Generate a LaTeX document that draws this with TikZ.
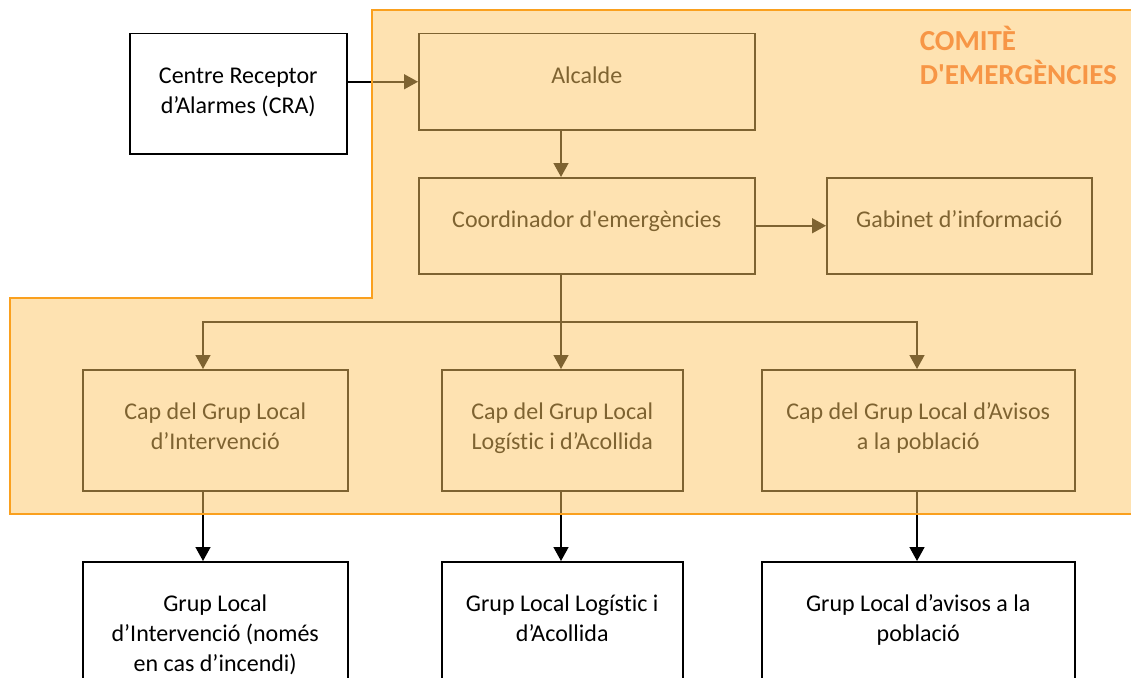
\documentclass[tikz,border=0pt]{standalone}
\usepackage{fontspec}
\setmainfont{Carlito}[Ligatures=NoCommon]
\usetikzlibrary{arrows.meta}

\definecolor{comite}{RGB}{253,198,99}
\definecolor{vora}{RGB}{250,160,30}
\definecolor{titol}{RGB}{247,150,70}

\tikzset{caixa/.style={draw, inner sep=0pt, anchor=north west}}
\newcommand{\caixatext}[3]{\parbox[c][#2][t]{#1}{\centering\vspace*{29pt}\strut #3}}

\begin{document}
\begin{tikzpicture}
		[
		x=1pt, y=-1pt, line width=1.5pt, font=\fontsize{24}{30}\selectfont,
		>={Triangle[length=14pt,width=15pt]}
		%Voreinstellung: Pixel des Originals, y nach unten
		]
		\useasboundingbox (0,0) rectangle (1131,677);
		\clip (0,0) rectangle (1131,677);
		
		%Caixes de dalt
		\node[caixa] (cra) at (129,33) {\caixatext{217pt}{120pt}{Centre Receptor\\d’Alarmes (CRA)}};
		\node[caixa] (alcalde) at (418,33) {\caixatext{336pt}{96pt}{Alcalde}};
		\node[caixa] (coord) at (418,177) {\caixatext{336pt}{96pt}{Coordinador d\textquotesingle emergències}};
		\node[caixa] (gabinet) at (826,177) {\caixatext{265pt}{96pt}{Gabinet d’informació}};
		
		%Caps dels grups
		\node[caixa] (capint) at (82,369) {\caixatext{265pt}{121pt}{Cap del Grup Local\\d’Intervenció}};
		\node[caixa] (caplog) at (441,369) {\caixatext{241pt}{121pt}{Cap del Grup Local\\Logístic i d’Acollida}};
		\node[caixa] (capavis) at (761,369) {\caixatext{313pt}{121pt}{Cap del Grup Local d’Avisos\\a la població}};
		
		%Grups locals
		\node[caixa] (grupint) at (82,561) {\caixatext{265pt}{140pt}{Grup Local\\d’Intervenció (només\\en cas d’incendi)}};
		\node[caixa] (gruplog) at (441,561) {\caixatext{241pt}{140pt}{Grup Local Logístic i\\d’Acollida}};
		\node[caixa] (grupavis) at (761,561) {\caixatext{313pt}{140pt}{Grup Local d’avisos a la\\població}};
		
		%Fletxes
		\coordinate (rama) at (561,322);
		\coordinate (xint) at (203,0);
		\coordinate (xavis) at (917,0);
		\draw[->] (cra.east |- alcalde.west) -- (alcalde.west);
		\draw[->] (alcalde.south -| rama) -- (coord.north -| rama);
		\draw[->] (coord.east) -- (gabinet.west);
		\draw (coord.south -| rama) -- (rama);
		\draw[->] (rama) -- (caplog.north -| rama);
		\draw[->] (rama) -| (capint.north -| xint);
		\draw[->] (rama) -| (capavis.north -| xavis);
		\draw[->] (capint.south -| xint) -- (grupint.north -| xint);
		\draw[->] (caplog.south -| rama) -- (gruplog.north -| rama);
		\draw[->] (capavis.south -| xavis) -- (grupavis.north -| xavis);
		
		%Comitè d'emergències
		\draw[vora, fill=comite, fill opacity=0.5] (372,10) -- (1140,10) -- (1140,514) -- (10,514) -- (10,298) -- (372,298) -- cycle;
		\node[anchor=base west, inner sep=0pt, text=titol, font=\fontsize{29}{35}\selectfont\bfseries] (titol) at (919,50) {\parbox[t]{220pt}{\raggedright COMITÈ\\D\textquotesingle EMERGÈNCIES}};
	\end{tikzpicture}
\end{document}
